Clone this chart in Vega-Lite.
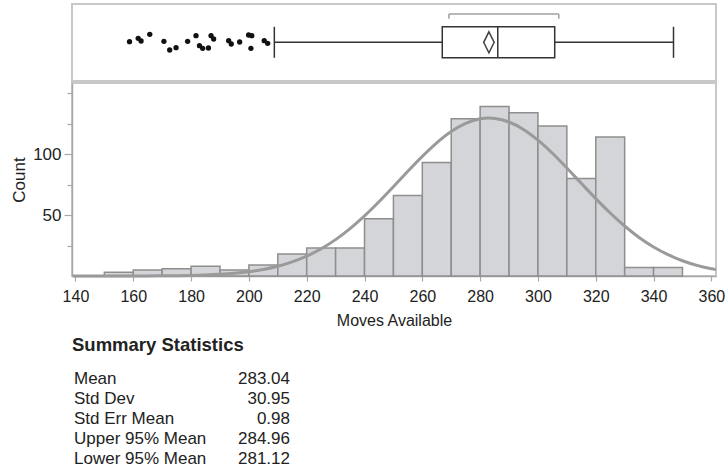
{
  "$schema": "https://vega.github.io/schema/vega-lite/v6.json",
  "background": "white",
  "padding": {"left": 9, "top": 3, "right": 0, "bottom": 0},
  "spacing": 0,
  "config": {
    "view": {"stroke": "#c8c8c8", "strokeWidth": 2},
    "axis": {"grid": false, "domainColor": "#a8a8a8", "tickColor": "#a8a8a8", "labelColor": "#222", "titleColor": "#222", "domainWidth": 1.5, "tickWidth": 1.2},
    "font": "Liberation Sans"
  },
  "vconcat": [
    {
      "width": 644,
      "height": 77,
      "data": {"values": [{"lo": 208.8, "q1": 266.9, "med": 286.1, "q3": 305.8, "hi": 346.9, "mean": 283.04, "sl": 269.2, "sh": 307.2}]},
      "layer": [
        {
          "mark": {"type": "rule", "color": "#333", "strokeWidth": 1.5},
          "encoding": {
            "x": {"field": "lo", "type": "quantitative", "scale": {"domain": [138.8, 361.6], "nice": false, "zero": false}, "axis": null},
            "x2": {"field": "q1"},
            "y": {"datum": 0, "type": "quantitative", "scale": {"domain": [-38.7, 38.3], "nice": false, "zero": false}, "axis": null}
          }
        },
        {
          "mark": {"type": "rule", "color": "#333", "strokeWidth": 1.5},
          "encoding": {"x": {"field": "q3", "type": "quantitative"}, "x2": {"field": "hi"}, "y": {"datum": 0, "type": "quantitative"}}
        },
        {
          "mark": {"type": "rule", "color": "#333", "strokeWidth": 1.5},
          "encoding": {"x": {"field": "lo", "type": "quantitative"}, "y": {"datum": 15.5, "type": "quantitative"}, "y2": {"datum": -15.5}}
        },
        {
          "mark": {"type": "rule", "color": "#333", "strokeWidth": 1.5},
          "encoding": {"x": {"field": "hi", "type": "quantitative"}, "y": {"datum": 15.5, "type": "quantitative"}, "y2": {"datum": -15.5}}
        },
        {
          "mark": {"type": "rect", "fill": "white", "stroke": "#333", "strokeWidth": 1.5},
          "encoding": {"x": {"field": "q1", "type": "quantitative"}, "x2": {"field": "q3"}, "y": {"datum": 15.5, "type": "quantitative"}, "y2": {"datum": -15.5}}
        },
        {
          "mark": {"type": "rule", "color": "#333", "strokeWidth": 1.5},
          "encoding": {"x": {"field": "med", "type": "quantitative"}, "y": {"datum": 15.5, "type": "quantitative"}, "y2": {"datum": -15.5}}
        },
        {
          "mark": {"type": "point", "shape": "M0,-1L0.5,0L0,1L-0.5,0Z", "filled": false, "stroke": "#444", "strokeWidth": 1.5, "size": 441, "opacity": 1},
          "encoding": {"x": {"field": "mean", "type": "quantitative"}, "y": {"datum": 0, "type": "quantitative"}}
        },
        {
          "mark": {"type": "rule", "color": "#a0a0a0", "strokeWidth": 1.5},
          "encoding": {"x": {"field": "sl", "type": "quantitative"}, "x2": {"field": "sh"}, "y": {"datum": 28.3, "type": "quantitative"}}
        },
        {
          "mark": {"type": "rule", "color": "#a0a0a0", "strokeWidth": 1.5},
          "encoding": {"x": {"field": "sl", "type": "quantitative"}, "y": {"datum": 28.3, "type": "quantitative"}, "y2": {"datum": 23.5}}
        },
        {
          "mark": {"type": "rule", "color": "#a0a0a0", "strokeWidth": 1.5},
          "encoding": {"x": {"field": "sh", "type": "quantitative"}, "y": {"datum": 28.3, "type": "quantitative"}, "y2": {"datum": 23.5}}
        },
        {
          "data": {"values": [
            {"v": 158.7, "jit": 0.6}, {"v": 161.7, "jit": 4.0}, {"v": 162.7, "jit": 1.3}, {"v": 165.7, "jit": 8.0},
            {"v": 170.6, "jit": 1.0}, {"v": 172.6, "jit": -7.7}, {"v": 174.8, "jit": -5.4}, {"v": 178.8, "jit": 1.0},
            {"v": 181.7, "jit": 6.6}, {"v": 182.9, "jit": -3.4}, {"v": 184.0, "jit": -6.0}, {"v": 186.0, "jit": -5.7},
            {"v": 186.9, "jit": 6.6}, {"v": 187.8, "jit": 3.3}, {"v": 193.0, "jit": 1.6}, {"v": 193.9, "jit": -1.7},
            {"v": 196.8, "jit": 0.3}, {"v": 199.9, "jit": 7.3}, {"v": 201.0, "jit": 6.6}, {"v": 200.7, "jit": -6.0},
            {"v": 205.3, "jit": 1.6}, {"v": 206.5, "jit": -1.0}
          ]},
          "mark": {"type": "circle", "color": "#111", "size": 28, "opacity": 1},
          "encoding": {"x": {"field": "v", "type": "quantitative"}, "y": {"field": "jit", "type": "quantitative"}}
        }
      ]
    },
    {
      "width": 644,
      "height": 193,
      "resolve": {"axis": {"y": "independent"}},
      "layer": [
        {
          "data": {"values": [
            {"b0": 150, "b1": 160, "count": 3}, {"b0": 160, "b1": 170, "count": 5}, {"b0": 170, "b1": 180, "count": 6},
            {"b0": 180, "b1": 190, "count": 8}, {"b0": 190, "b1": 200, "count": 5}, {"b0": 200, "b1": 210, "count": 9},
            {"b0": 210, "b1": 220, "count": 18}, {"b0": 220, "b1": 230, "count": 23}, {"b0": 230, "b1": 240, "count": 23},
            {"b0": 240, "b1": 250, "count": 47}, {"b0": 250, "b1": 260, "count": 66}, {"b0": 260, "b1": 270, "count": 93},
            {"b0": 270, "b1": 280, "count": 129}, {"b0": 280, "b1": 290, "count": 139}, {"b0": 290, "b1": 300, "count": 134},
            {"b0": 300, "b1": 310, "count": 123}, {"b0": 310, "b1": 320, "count": 80}, {"b0": 320, "b1": 330, "count": 114},
            {"b0": 330, "b1": 340, "count": 7}, {"b0": 340, "b1": 350, "count": 7}
          ]},
          "mark": {"type": "rect", "fill": "#d4d5d8", "stroke": "#8e8e8e", "strokeWidth": 1.5},
          "encoding": {
            "x": {"field": "b0", "type": "quantitative", "title": "Moves Available",
              "scale": {"domain": [138.8, 361.6], "nice": false, "zero": false},
              "axis": {
                "values": [140, 150, 160, 170, 180, 190, 200, 210, 220, 230, 240, 250, 260, 270, 280, 290, 300, 310, 320, 330, 340, 350, 360],
                "labelExpr": "datum.value % 20 === 0 ? datum.label : ''",
                "format": "d", "tickSize": 5, "labelOverlap": false, "labelFlush": false,
                "labelFontSize": 16, "labelPadding": 7,
                "titleFontSize": 16, "titleFontWeight": "normal", "titlePadding": 8
              }
            },
            "x2": {"field": "b1"},
            "y": {"field": "count", "type": "quantitative", "title": "Count",
              "scale": {"domain": [0, 158.3], "nice": false},
              "axis": {
                "values": [50, 100],
                "tickSize": 8, "orient": "left",
                "labelOverlap": false, "labelFlush": false,
                "labelFontSize": 17, "labelPadding": 3,
                "titleFontSize": 17, "titleFontWeight": "normal", "titlePadding": 4
              }
            },
            "y2": {"datum": 0}
          }
        },
        {
          "data": {"values": [
            {"x": 139, "y": 0.0}, {"x": 145, "y": 0.01}, {"x": 150, "y": 0.01}, {"x": 155, "y": 0.03}, {"x": 160, "y": 0.05},
            {"x": 165, "y": 0.09}, {"x": 170, "y": 0.16}, {"x": 175, "y": 0.29}, {"x": 180, "y": 0.51}, {"x": 185, "y": 0.86},
            {"x": 190, "y": 1.41}, {"x": 195, "y": 2.26}, {"x": 200, "y": 3.54}, {"x": 205, "y": 5.39}, {"x": 210, "y": 7.99},
            {"x": 215, "y": 11.56}, {"x": 220, "y": 16.27}, {"x": 225, "y": 22.32}, {"x": 230, "y": 29.82}, {"x": 235, "y": 38.83},
            {"x": 240, "y": 49.24}, {"x": 245, "y": 60.85}, {"x": 250, "y": 73.25}, {"x": 255, "y": 85.91}, {"x": 260, "y": 98.16},
            {"x": 265, "y": 109.27}, {"x": 270, "y": 118.5}, {"x": 275, "y": 125.2}, {"x": 280, "y": 128.9}, {"x": 283, "y": 129.5},
            {"x": 285, "y": 129.2}, {"x": 290, "y": 126.3}, {"x": 295, "y": 120.2}, {"x": 300, "y": 111.4}, {"x": 305, "y": 100.7},
            {"x": 310, "y": 88.6}, {"x": 315, "y": 76.0}, {"x": 320, "y": 63.5}, {"x": 325, "y": 51.7}, {"x": 330, "y": 41.0},
            {"x": 335, "y": 31.6}, {"x": 340, "y": 23.8}, {"x": 345, "y": 17.5}, {"x": 350, "y": 12.5}, {"x": 355, "y": 8.68},
            {"x": 360, "y": 5.88}, {"x": 361.6, "y": 5.2}
          ]},
          "mark": {"type": "line", "color": "#9a9a9a", "strokeWidth": 3, "interpolate": "monotone"},
          "encoding": {
            "x": {"field": "x", "type": "quantitative", "title": "Moves Available"},
            "y": {"field": "y", "type": "quantitative", "title": null,
              "axis": {"values": [25, 75, 125, 150], "orient": "left", "labels": false, "domain": false, "tickSize": 5, "title": null}
            }
          }
        }
      ]
    },
    {
      "width": 218,
      "height": 100,
      "view": {"stroke": null},
      "title": {"text": ["", "Summary Statistics"], "lineHeight": 6.5, "anchor": "start", "fontSize": 18.5, "fontWeight": "bold", "font": "Liberation Sans", "color": "#222", "offset": 14.5},
      "data": {"values": [
        {"stat": "Mean", "value": "283.04"},
        {"stat": "Std Dev", "value": "30.95"},
        {"stat": "Std Err Mean", "value": "0.98"},
        {"stat": "Upper 95% Mean", "value": "284.96"},
        {"stat": "Lower 95% Mean", "value": "281.12"}
      ]},
      "layer": [
        {
          "mark": {"type": "text", "align": "left", "baseline": "middle", "dx": 2, "fontSize": 17, "font": "Liberation Sans", "color": "#222"},
          "encoding": {
            "x": {"datum": "label", "type": "nominal", "scale": {"type": "point", "domain": ["label", "value"], "padding": 0}, "axis": null},
            "y": {"field": "stat", "type": "nominal", "sort": ["Mean", "Std Dev", "Std Err Mean", "Upper 95% Mean", "Lower 95% Mean"], "scale": {"type": "band", "paddingInner": 0, "paddingOuter": 0}, "axis": null},
            "text": {"field": "stat"}
          }
        },
        {
          "mark": {"type": "text", "align": "right", "baseline": "middle", "fontSize": 17, "font": "Liberation Sans", "color": "#222"},
          "encoding": {
            "x": {"datum": "value", "type": "nominal"},
            "y": {"field": "stat", "type": "nominal", "sort": ["Mean", "Std Dev", "Std Err Mean", "Upper 95% Mean", "Lower 95% Mean"]},
            "text": {"field": "value"}
          }
        }
      ]
    }
  ]
}
